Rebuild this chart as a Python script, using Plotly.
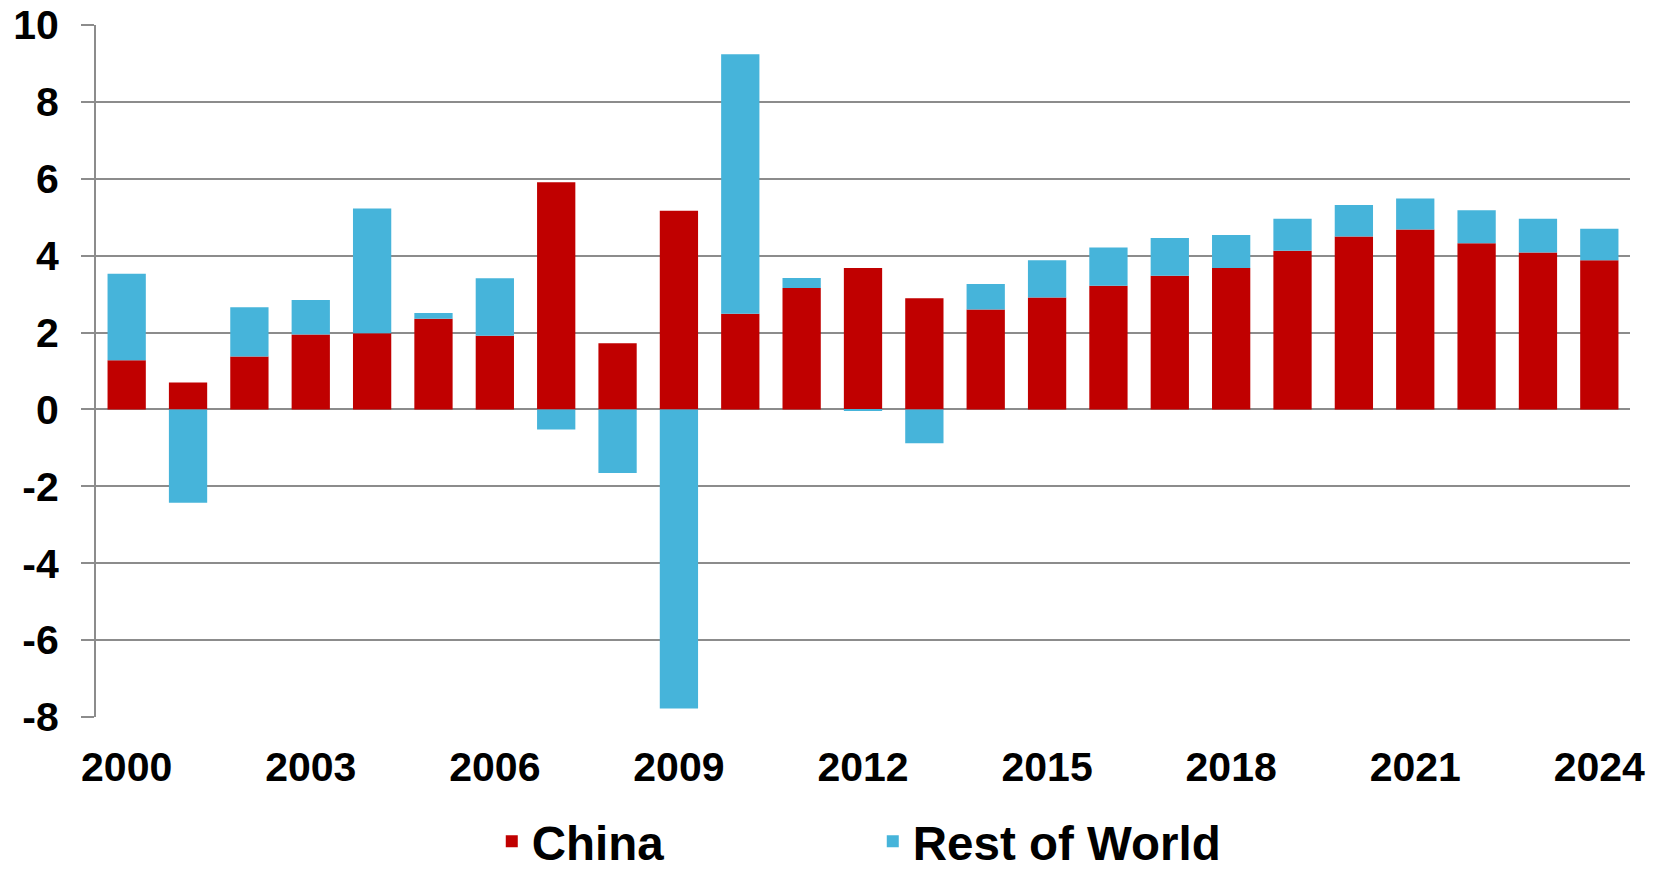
import plotly.graph_objects as go

years = list(range(2000, 2025))
china = [1.28, 0.70, 1.38, 1.95, 1.98, 2.36, 1.92, 5.91, 1.72, 5.17, 2.49, 3.16, 3.68,
         2.89, 2.60, 2.91, 3.22, 3.48, 3.68, 4.13, 4.50, 4.68, 4.32, 4.08, 3.88]
rest_of_world = [2.25, -2.43, 1.28, 0.90, 3.25, 0.15, 1.49, -0.52, -1.65, -7.78, 6.75, 0.26, -0.03,
                 -0.88, 0.66, 0.97, 0.99, 0.98, 0.86, 0.83, 0.82, 0.81, 0.86, 0.88, 0.82]
label_years = list(range(2000, 2025, 3))
y_ticks = list(range(-8, 11, 2))
y_tick_text = [str(v) for v in y_ticks]  # hyphen-minus, as in the original

RED = "#C00000"
BLUE = "#46B4DA"
GREY = "#8C8C8C"
FONT = dict(family="Liberation Sans, Arial, sans-serif", size=41, color="black", weight="bold")

fig = go.Figure()
fig.add_trace(go.Bar(x=years, y=china, name="China", marker=dict(color=RED, line=dict(width=0))))
fig.add_trace(go.Bar(x=years, y=rest_of_world, name="Rest of World",
                     marker=dict(color=BLUE, line=dict(width=0))))

x_range = [years[0] - 0.5, years[-1] + 0.5]
boundaries = [y - 0.5 for y in years] + [years[-1] + 0.5]
y_min, y_max = y_ticks[0], y_ticks[-1]

fig.update_layout(
    width=1663, height=873,
    margin=dict(l=96, r=33, t=25, b=156, autoexpand=False),
    paper_bgcolor="white", plot_bgcolor="white",
    barmode="relative", bargap=0.376,
    font=FONT,
    showlegend=True,
    legend=dict(orientation="h", x=0.258, xanchor="left", y=-0.2341, yanchor="bottom",
                font=dict(family="Liberation Sans, Arial, sans-serif", size=47.5, color="black", weight="bold"),
                entrywidth=336, entrywidthmode="pixels", traceorder="normal",
                bgcolor="rgba(0,0,0,0)"),
    xaxis=dict(range=x_range, tickmode="array", tickvals=label_years,
               ticktext=[str(v) for v in label_years], showline=False, showgrid=False,
               zeroline=False, ticks="", tickfont=FONT, ticklabelstandoff=22, automargin=False),
    xaxis2=dict(range=x_range, overlaying="x", anchor="free",
                position=(0 - y_min) / (y_max - y_min),
                tickmode="array", tickvals=boundaries, showticklabels=False,
                ticks="outside", ticklen=13, tickwidth=2, tickcolor=GREY,
                showline=True, linecolor=GREY, linewidth=2, showgrid=False, zeroline=False),
    yaxis=dict(range=[y_min, y_max], tickmode="array", tickvals=y_ticks, ticktext=y_tick_text,
               showline=True, linecolor=GREY, linewidth=2,
               ticks="outside", ticklen=13, tickwidth=2, tickcolor=GREY,
               showgrid=True, gridcolor=GREY, gridwidth=2, zeroline=False,
               tickfont=FONT, ticklabelstandoff=14, automargin=False),
)

fig.write_html("out.html")
